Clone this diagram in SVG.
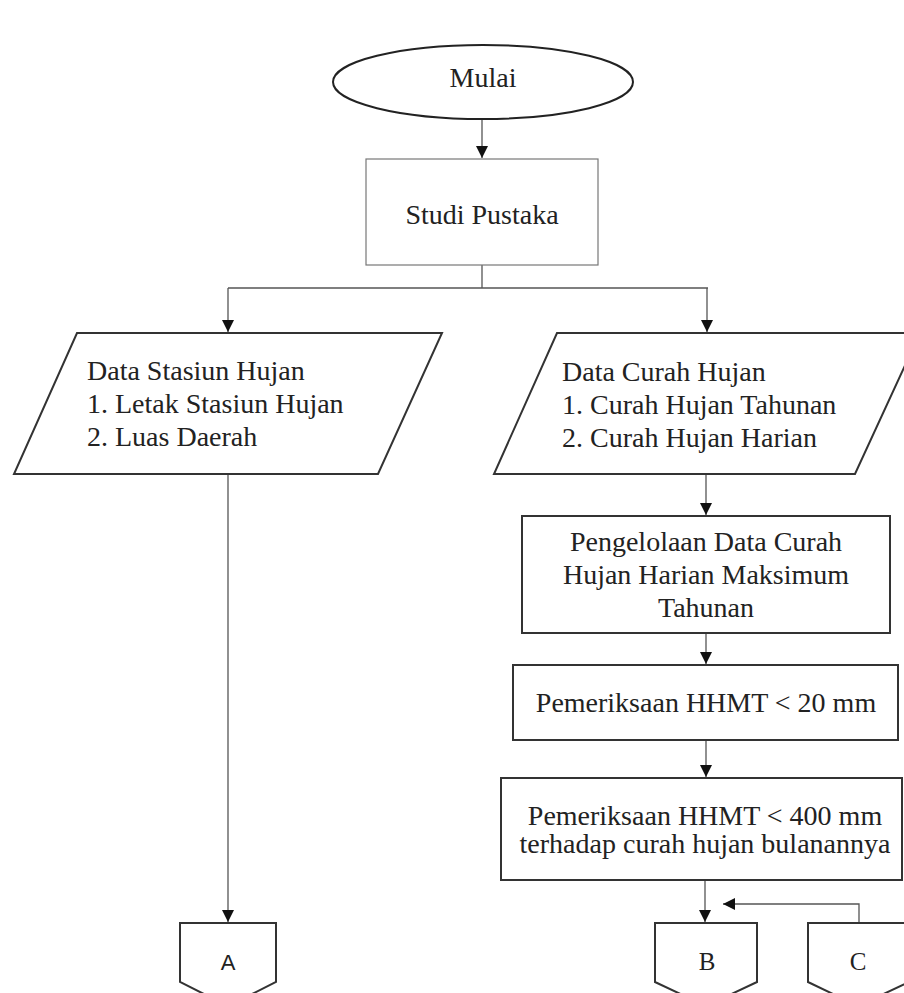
<svg xmlns="http://www.w3.org/2000/svg" width="904" height="993" viewBox="0 0 904 993">
<style>
text{font-family:"Liberation Serif","Times New Roman",serif;font-size:28px;fill:#222}
.c{text-anchor:middle}
.box{fill:#fff;stroke:#333;stroke-width:2}
.thin{fill:#fff;stroke:#777;stroke-width:1.2}
.ln{fill:none;stroke:#555;stroke-width:1.3}
.lbl{font-size:25px}
</style>
<defs>
<marker id="ah" markerUnits="userSpaceOnUse" markerWidth="14" markerHeight="16" refX="12" refY="6" orient="auto">
<path d="M0,0 L12,6 L0,12 Z" fill="#111"/>
</marker>
</defs>
<rect width="904" height="993" fill="#fff"/>
<g id="connectors">
<line class="ln" x1="482" y1="119" x2="482" y2="158" marker-end="url(#ah)"/>
<line class="ln" x1="482" y1="265" x2="482" y2="288"/>
<line class="ln" x1="228" y1="288" x2="708" y2="288"/>
<line class="ln" x1="228" y1="288" x2="228" y2="332" marker-end="url(#ah)"/>
<line class="ln" x1="707" y1="288" x2="707" y2="332" marker-end="url(#ah)"/>
<line class="ln" x1="706" y1="475" x2="706" y2="515" marker-end="url(#ah)"/>
<line class="ln" x1="706" y1="634" x2="706" y2="664" marker-end="url(#ah)"/>
<line class="ln" x1="706" y1="741" x2="706" y2="777" marker-end="url(#ah)"/>
<line class="ln" x1="228" y1="475" x2="228" y2="922" marker-end="url(#ah)"/>
<line class="ln" x1="705" y1="881" x2="705" y2="922" marker-end="url(#ah)"/>
<polyline class="ln" points="859,923 859,904 723,904" marker-end="url(#ah)"/>
</g>
<g id="mulai">
<ellipse cx="483" cy="82" rx="150" ry="37" fill="#fff" stroke="#222" stroke-width="2"/>
<text class="c" x="483" y="87">Mulai</text>
</g>
<g id="studi-pustaka">
<rect class="thin" x="366" y="159" width="232" height="106"/>
<text class="c" x="482" y="224">Studi Pustaka</text>
</g>
<g id="data-stasiun">
<polygon class="box" points="77,333 442,333 378,474 14,474"/>
<text x="87" y="380">Data Stasiun Hujan</text>
<text x="87" y="413">1. Letak Stasiun Hujan</text>
<text x="87" y="446">2. Luas Daerah</text>
</g>
<g id="data-curah">
<polygon class="box" points="557,333 920,333 855,474 494,474"/>
<text x="562" y="381">Data Curah Hujan</text>
<text x="562" y="414">1. Curah Hujan Tahunan</text>
<text x="562" y="447">2. Curah Hujan Harian</text>
</g>
<g id="pengelolaan">
<rect class="box" x="522" y="516" width="368" height="117"/>
<text class="c" x="706" y="551">Pengelolaan Data Curah</text>
<text class="c" x="706" y="584">Hujan Harian Maksimum</text>
<text class="c" x="706" y="617">Tahunan</text>
</g>
<g id="pemeriksaan-20">
<rect class="box" x="513" y="665" width="385" height="75"/>
<text class="c" x="706" y="712">Pemeriksaan HHMT &lt; 20 mm</text>
</g>
<g id="pemeriksaan-400">
<rect class="box" x="501" y="778" width="401" height="102"/>
<text class="c" x="705" y="825">Pemeriksaan HHMT &lt; 400 mm</text>
<text class="c" x="705" y="853">terhadap curah hujan bulanannya</text>
</g>
<g id="conn-a">
<polygon class="box" points="180,923 276,923 276,982 228,1006 180,982"/>
<text class="c lbl" x="228" y="970" style="font-family:'Liberation Sans',Arial,sans-serif;font-size:22px">A</text>
</g>
<g id="conn-b">
<polygon class="box" points="655,923 757,923 757,982 706,1006 655,982"/>
<text class="c lbl" x="707" y="970">B</text>
</g>
<g id="conn-c">
<polygon class="box" points="808,923 909,923 909,982 858,1006 808,982"/>
<text class="c lbl" x="858" y="970">C</text>
</g>
</svg>
